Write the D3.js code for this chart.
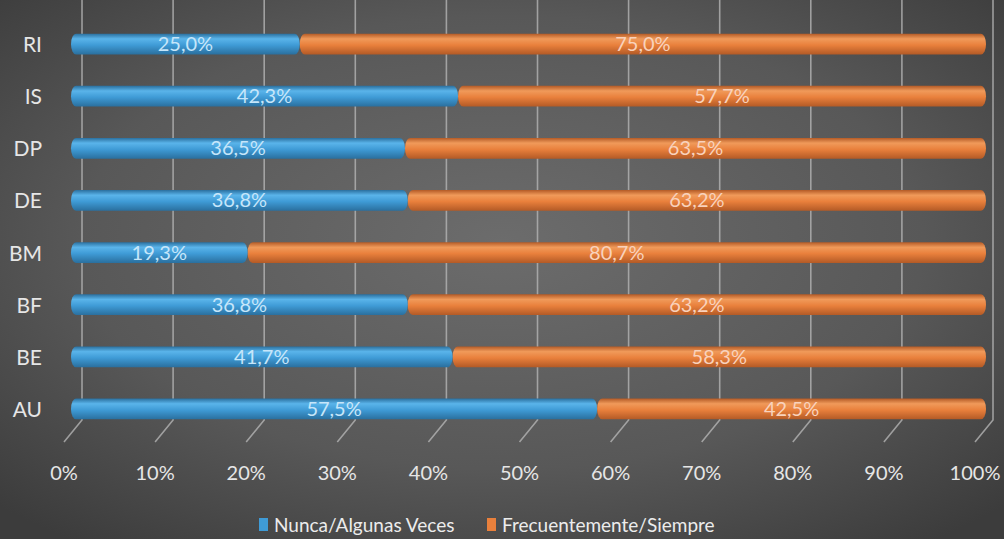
<!DOCTYPE html>
<html>
<head>
<meta charset="utf-8">
<script src="https://cdn.jsdelivr.net/npm/d3@7"></script>
<style>
  html, body { margin: 0; padding: 0; background: #4a4a4a; }
  svg { display: block; }
  text { font-family: Lato, "Open Sans", sans-serif; }
</style>
</head>
<body>
<svg id="chart" width="1004" height="539"></svg>
<script>
var categories = ["RI", "IS", "DP", "DE", "BM", "BF", "BE", "AU"];
var nunca = [25.0, 42.3, 36.5, 36.8, 19.3, 36.8, 41.7, 57.5];
var frecuente = [75.0, 57.7, 63.5, 63.2, 80.7, 63.2, 58.3, 42.5];
var seriesNames = ["Nunca/Algunas Veces", "Frecuentemente/Siempre"];
var xTicks = [0, 10, 20, 30, 40, 50, 60, 70, 80, 90, 100];

var svg = d3.select("#chart");
var W = 1004, H = 539;
var defs = svg.append("defs");

// background radial glow
var bg = defs.append("radialGradient").attr("id", "bg")
  .attr("cx", "50%").attr("cy", "45%").attr("r", "70%");
bg.append("stop").attr("offset", "0%").attr("stop-color", "#6c6c6c");
bg.append("stop").attr("offset", "60%").attr("stop-color", "#585858");
bg.append("stop").attr("offset", "100%").attr("stop-color", "#3c3c3c");
svg.append("rect").attr("width", W).attr("height", H).attr("fill", "url(#bg)");

function cyl(id, light, mid, dark) {
  var g = defs.append("linearGradient").attr("id", id)
    .attr("x1", 0).attr("y1", 0).attr("x2", 0).attr("y2", 1);
  g.append("stop").attr("offset", "0%").attr("stop-color", dark);
  g.append("stop").attr("offset", "25%").attr("stop-color", light);
  g.append("stop").attr("offset", "55%").attr("stop-color", mid);
  g.append("stop").attr("offset", "100%").attr("stop-color", dark);
}
cyl("gBlue", "#5ab4ea", "#3f9bd6", "#2a6f9e");
cyl("gOrange", "#f09a5a", "#e9803c", "#b35a26");

var xBar = d3.scaleLinear().domain([0, 100]).range([71, 986]);
var xBack = d3.scaleLinear().domain([0, 100]).range([82, 993]);
var xFront = d3.scaleLinear().domain([0, 100]).range([64, 975]);
var y = d3.scaleBand().domain(categories).range([18, 435]).paddingInner(0.6).paddingOuter(0.3);

// gridlines with 3D floor slant
var floorTop = 420, floorBottom = 442;
svg.append("g").selectAll("path").data(xTicks).join("path")
  .attr("d", function (d) {
    return "M" + xBack(d) + ",0V" + floorTop + "L" + xFront(d) + "," + floorBottom;
  })
  .attr("fill", "none").attr("stroke", "#b4b4b4").attr("stroke-width", 1.6)
  .attr("opacity", 0.8);

// axis labels
svg.append("g").selectAll("text").data(xTicks).join("text")
  .attr("x", function (d) { return xFront(d); })
  .attr("y", 480)
  .attr("text-anchor", "middle")
  .attr("fill", "#e6e6e6").attr("font-size", 20)
  .text(function (d) { return d + "%"; });

svg.append("g").selectAll("text").data(categories).join("text")
  .attr("x", 42)
  .attr("y", function (d) { return y(d) + y.bandwidth() / 2 + 8; })
  .attr("text-anchor", "end")
  .attr("fill", "#e6e6e6").attr("font-size", 21)
  .text(function (d) { return d; });

var fmt = function (v) { return v.toFixed(1).replace(".", ",") + "%"; };

var rows = categories.map(function (c, i) { return { cat: c, a: nunca[i], b: frecuente[i] }; });
var bars = svg.append("g").selectAll("g").data(rows).join("g");

bars.append("rect")
  .attr("x", function (d) { return xBar(d.a); })
  .attr("y", function (d) { return y(d.cat); })
  .attr("width", function (d) { return xBar(d.a + d.b) - xBar(d.a); })
  .attr("height", y.bandwidth())
  .attr("rx", 5).attr("ry", y.bandwidth() / 2)
  .attr("fill", "url(#gOrange)");

bars.append("rect")
  .attr("x", xBar(0))
  .attr("y", function (d) { return y(d.cat); })
  .attr("width", function (d) { return xBar(d.a) - xBar(0); })
  .attr("height", y.bandwidth())
  .attr("rx", 5).attr("ry", y.bandwidth() / 2)
  .attr("fill", "url(#gBlue)");

bars.append("text")
  .attr("x", function (d) { return (xBar(0) + xBar(d.a)) / 2; })
  .attr("y", function (d) { return y(d.cat) + y.bandwidth() / 2 + 7; })
  .attr("text-anchor", "middle").attr("font-size", 20)
  .attr("fill", "#c6e6fa")
  .text(function (d) { return fmt(d.a); });

bars.append("text")
  .attr("x", function (d) { return (xBar(d.a) + xBar(d.a + d.b)) / 2; })
  .attr("y", function (d) { return y(d.cat) + y.bandwidth() / 2 + 7; })
  .attr("text-anchor", "middle").attr("font-size", 20)
  .attr("fill", "#f9d2bc")
  .text(function (d) { return fmt(d.b); });

// legend
var legend = svg.append("g");
var legendX = [259, 487];
seriesNames.forEach(function (name, i) {
  legend.append("rect").attr("x", legendX[i]).attr("y", 518)
    .attr("width", 9).attr("height", 13).attr("fill", i ? "#e9803c" : "#3f9bd6");
  legend.append("text").attr("x", legendX[i] + 15).attr("y", 532)
    .attr("font-size", 19).attr("fill", "#ececec").text(name);
});
</script>
</body>
</html>
